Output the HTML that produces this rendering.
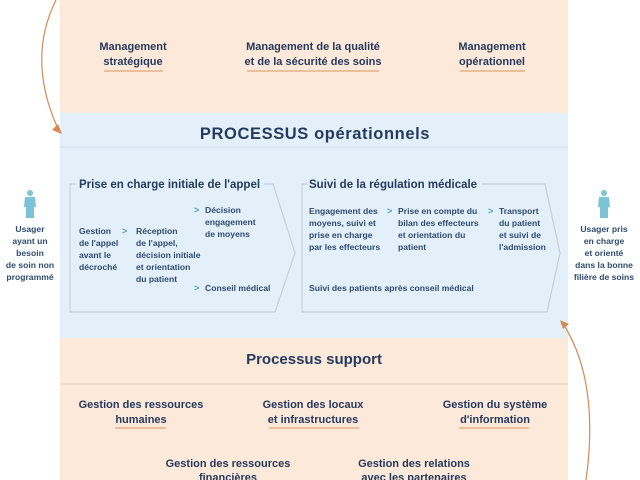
<!DOCTYPE html>
<html><head><meta charset="utf-8"><style>
body{margin:0;background:#fff;}
svg{display:block;font-family:"Liberation Sans",sans-serif;font-weight:bold;}
</style></head><body>
<svg width="640" height="480" viewBox="0 0 640 480">
<rect x="0" y="0" width="640" height="480" fill="#fff"/>
<rect x="60" y="0" width="508" height="113" fill="#fce9da"/>
<rect x="60" y="113" width="508" height="225" fill="#e3f0f9"/>
<rect x="60" y="338" width="508" height="142" fill="#fce9da"/>
<line x1="60" y1="147" x2="568" y2="147" stroke="#d3e2ee" stroke-width="1.5"/>
<line x1="60" y1="384" x2="568" y2="384" stroke="#eed9c6" stroke-width="1.5"/>
<g fill="#243a5e" font-size="11" text-anchor="middle">
<text x="133" y="50">Management</text><text x="133" y="65">stratégique</text>
<text x="313" y="50">Management de la qualité</text><text x="313" y="65">et de la sécurité des soins</text>
<text x="492" y="50">Management</text><text x="492" y="65">opérationnel</text>
<text x="315" y="139" font-size="16.5" letter-spacing="0.6">PROCESSUS opérationnels</text>
<text x="314" y="364" font-size="15">Processus support</text>
<text x="141" y="408">Gestion des ressources</text><text x="141" y="423">humaines</text>
<text x="313" y="408">Gestion des locaux</text><text x="313" y="423">et infrastructures</text>
<text x="495" y="408">Gestion du système</text><text x="495" y="423">d'information</text>
<text x="228" y="467">Gestion des ressources</text><text x="228" y="481">financières</text>
<text x="414" y="467">Gestion des relations</text><text x="414" y="481">avec les partenaires</text>
</g>
<g stroke="#e0a878" stroke-width="1.3">
<line x1="104" y1="71" x2="163" y2="71"/><line x1="247" y1="71" x2="379" y2="71"/><line x1="460" y1="71" x2="525" y2="71"/>
<line x1="115" y1="428" x2="166" y2="428"/><line x1="269" y1="428" x2="359" y2="428"/><line x1="459" y1="428" x2="529" y2="428"/>
</g>
<g fill="none" stroke="#c3d0db" stroke-width="1.2">
<path d="M76 184 L70 184 L70 312 L275 312 L295 253 L273 184 L264 184"/>
<path d="M308 184 L302 184 L302 312 L547 312 L560 253 L545 184 L482 184"/>
</g>
<g fill="#243a5e">
<text x="79" y="188" font-size="11.5">Prise en charge initiale de l'appel</text>
<text x="309" y="188" font-size="11.5">Suivi de la régulation médicale</text>
</g>
<g fill="#2f4a70" font-size="8.6">
<text x="79" y="234">Gestion</text><text x="79" y="246">de l'appel</text><text x="79" y="258">avant le</text><text x="79" y="270">décroché</text>
<text x="136" y="234">Réception</text><text x="136" y="246">de l'appel,</text><text x="136" y="258">décision initiale</text><text x="136" y="270">et orientation</text><text x="136" y="282">du patient</text>
<text x="205" y="213">Décision</text><text x="205" y="225">engagement</text><text x="205" y="237">de moyens</text>
<text x="205" y="291">Conseil médical</text>
<text x="309" y="214">Engagement des</text><text x="309" y="226">moyens, suivi et</text><text x="309" y="238">prise en charge</text><text x="309" y="250">par les effecteurs</text>
<text x="398" y="214">Prise en compte du</text><text x="398" y="226">bilan des effecteurs</text><text x="398" y="238">et orientation du</text><text x="398" y="250">patient</text>
<text x="499" y="214">Transport</text><text x="499" y="226">du patient</text><text x="499" y="238">et suivi de</text><text x="499" y="250">l'admission</text>
<text x="309" y="291">Suivi des patients après conseil médical</text>
</g>
<g fill="#5a9bb8" font-size="9">
<text x="122" y="234">&gt;</text><text x="194" y="213">&gt;</text><text x="194" y="291">&gt;</text>
<text x="387" y="214">&gt;</text><text x="488" y="214">&gt;</text>
</g>
<g fill="#2f4a70" font-size="8.6" text-anchor="middle">
<text x="30" y="232">Usager</text><text x="30" y="244">ayant un</text><text x="30" y="256">besoin</text><text x="30" y="268">de soin non</text><text x="30" y="280">programmé</text>
<text x="604" y="232">Usager pris</text><text x="604" y="244">en charge</text><text x="604" y="256">et orienté</text><text x="604" y="268">dans la bonne</text><text x="604" y="280">filière de soins</text>
</g>
<g fill="#7cc3d8">
<circle cx="30" cy="193" r="3"/><path d="M25 197 h10 l1 10 h-2 v11 h-8 v-11 h-2z"/>
<circle cx="604" cy="193" r="3"/><path d="M599 197 h10 l1 10 h-2 v11 h-8 v-11 h-2z"/>
</g>
<g fill="none" stroke="#d58a55" stroke-width="1.2">
<path d="M56 0 Q26 60 59 131"/>
<path d="M586 480 Q600 380 562 322"/>
</g>
<path d="M62 134 L52 130 L58 124z" fill="#d58a55"/>
<path d="M560 320 L569 324 L563 329z" fill="#d58a55"/>
</svg>
</body></html>
